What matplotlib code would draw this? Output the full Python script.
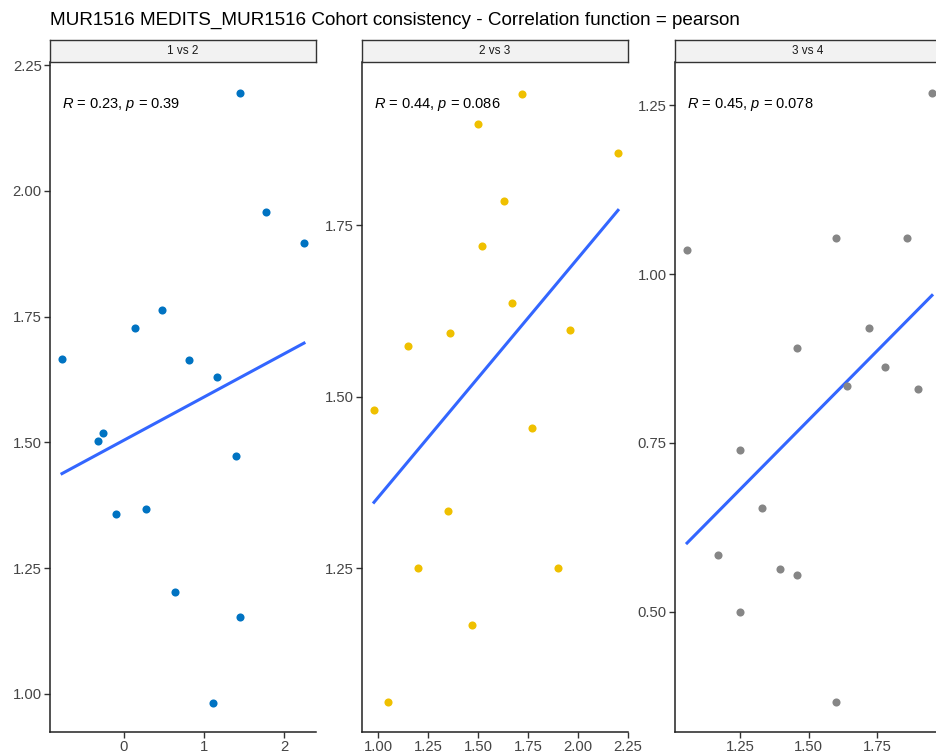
import numpy as np
import matplotlib
matplotlib.use("Agg")
import matplotlib.pyplot as plt

plt.rcParams['font.family'] = ['Liberation Sans', 'DejaVu Sans']
plt.rcParams['mathtext.fontset'] = 'custom'
plt.rcParams['mathtext.rm'] = 'Liberation Sans'
plt.rcParams['mathtext.it'] = 'Liberation Sans:italic'

title = "MUR1516 MEDITS_MUR1516 Cohort consistency - Correlation function = pearson"

panels = ["1 vs 2", "2 vs 3", "3 vs 4"]
colors = ["#0073C2", "#EFC000", "#868686"]
labels = [r"$\mathit{R}$ = 0.23, $\mathit{p}$ = 0.39",
          r"$\mathit{R}$ = 0.44, $\mathit{p}$ = 0.086",
          r"$\mathit{R}$ = 0.45, $\mathit{p}$ = 0.078"]

# panel 1: age 1 vs age 2
x1 = [-0.775, -0.325, -0.26, -0.10, 0.14, 0.275, 0.475, 0.64, 0.81, 1.16,
      1.40, 1.45, 1.45, 1.11, 1.775, 2.25]
y1 = [1.665, 1.502, 1.518, 1.357, 1.727, 1.367, 1.763, 1.203, 1.663, 1.630,
      1.472, 2.195, 1.153, 0.982, 1.958, 1.896]

# panel 2: age 2 vs age 3
x2 = [0.98, 1.05, 1.15, 1.20, 1.36, 1.35, 1.47, 1.50, 1.52, 1.63,
      1.67, 1.72, 1.77, 1.90, 1.96, 2.20]
y2 = [1.480, 1.055, 1.574, 1.250, 1.593, 1.333, 1.167, 1.897, 1.719, 1.785,
      1.636, 1.942, 1.455, 1.250, 1.597, 1.856]

# panel 3: age 3 vs age 4
x3 = [1.057, 1.17, 1.25, 1.25, 1.33, 1.396, 1.457, 1.457, 1.60, 1.60,
      1.64, 1.72, 1.78, 1.86, 1.90, 1.95]
y3 = [1.035, 0.584, 0.740, 0.500, 0.654, 0.563, 0.555, 0.890, 1.053, 0.367,
      0.835, 0.920, 0.863, 1.053, 0.830, 1.268]

xs = [x1, x2, x3]
ys = [y1, y2, y3]

xlims = [(-0.925, 2.4), (0.92, 2.25), (1.013, 1.983)]
ylims = [(0.924, 2.256), (1.011, 1.988), (0.322, 1.314)]
xticks = [[0, 1, 2], [1.0, 1.25, 1.5, 1.75, 2.0, 2.25], [1.25, 1.5, 1.75]]
xticklabels = [["0", "1", "2"],
               ["1.00", "1.25", "1.50", "1.75", "2.00", "2.25"],
               ["1.25", "1.50", "1.75"]]
yticks = [[1.0, 1.25, 1.5, 1.75, 2.0, 2.25], [1.25, 1.5, 1.75],
          [0.5, 0.75, 1.0, 1.25]]

fig = plt.figure(figsize=(9.37, 7.56), dpi=100)
fig.text(50 / 937, 1 - 20 / 756, title, fontsize=13.6, color="black",
         va="center", ha="left")

lefts = [50 / 937, 362 / 937, 675 / 937]
w = 266 / 937
bottom = 1 - 732 / 756
h = 670 / 756
strip_h = 22 / 756

for i in range(3):
    ax = fig.add_axes([lefts[i], bottom, w, h])
    x = np.array(xs[i])
    y = np.array(ys[i])
    ax.scatter(x, y, s=34, color=colors[i], zorder=3, linewidths=0)
    # linear fit, drawn over the data range
    k, b = np.polyfit(x, y, 1)
    xx = np.array([x.min(), x.max()])
    ax.plot(xx, k * xx + b, color="#3366FF", lw=2.2, zorder=2)
    ax.text(0.045, 0.937, labels[i], transform=ax.transAxes, fontsize=10.5,
            va="center", ha="left", color="black")
    ax.set_xlim(*xlims[i])
    ax.set_ylim(*ylims[i])
    ax.set_xticks(xticks[i])
    ax.set_xticklabels(xticklabels[i])
    ax.set_yticks(yticks[i])
    ax.set_yticklabels(["%.2f" % v for v in yticks[i]])
    for s in ["top", "right"]:
        ax.spines[s].set_visible(False)
    for s in ["left", "bottom"]:
        ax.spines[s].set_color("#222222")
        ax.spines[s].set_linewidth(1.1)
    ax.tick_params(direction="out", length=4, width=1, color="#333333",
                   labelsize=10.7, labelcolor="#454545", pad=2)

    # facet strip
    sax = fig.add_axes([lefts[i], bottom + h, w, strip_h])
    sax.set_xticks([])
    sax.set_yticks([])
    sax.set_facecolor("#F2F2F2")
    for s in sax.spines.values():
        s.set_color("#333333")
        s.set_linewidth(1.0)
    sax.text(0.5, 0.5, panels[i], transform=sax.transAxes, ha="center",
             va="center", fontsize=8.5, color="#1A1A1A")

fig.savefig("out.png", dpi=100)
